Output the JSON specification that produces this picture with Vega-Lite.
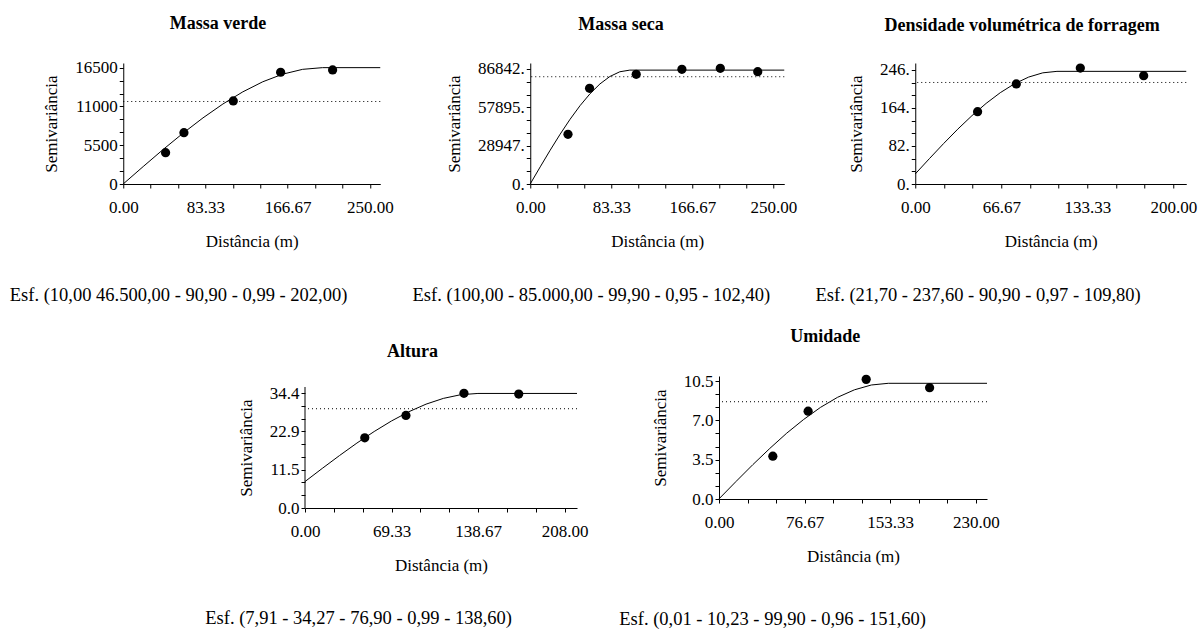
{
  "$schema": "https://vega.github.io/schema/vega-lite/v6.json",
  "background": "white",
  "padding": {"left": 9, "top": 14, "right": 5, "bottom": 5},
  "config": {
    "view": {"stroke": null},
    "font": "'Liberation Serif', 'Times New Roman', Tinos, 'Nimbus Roman', 'DejaVu Serif', serif",
    "axis": {"domainColor": "black", "tickColor": "black", "labelColor": "black", "titleColor": "black", "labelFont": "'Liberation Serif', 'Times New Roman', Tinos, 'Nimbus Roman', 'DejaVu Serif', serif", "titleFont": "'Liberation Serif', 'Times New Roman', Tinos, 'Nimbus Roman', 'DejaVu Serif', serif", "labelFontSize": 17, "titleFontSize": 17, "titleFontWeight": "normal", "grid": false, "labelFlush": false, "labelOverlap": false, "domainWidth": 1, "tickWidth": 1, "tickSize": 4, "tickCount": 30},
    "axisX": {"labelPadding": 11, "titlePadding": 18},
    "axisY": {"labelPadding": 2, "titlePadding": 14},
    "title": {"font": "'Liberation Serif', 'Times New Roman', Tinos, 'Nimbus Roman', 'DejaVu Serif', serif", "fontSize": 18, "fontWeight": "bold", "color": "black", "anchor": "middle", "frame": "bounds", "offset": 26}
  },
  "vconcat": [
    {
      "hconcat": [
        {
          "title": {"text": "Esf. (10,00 46.500,00 - 90,90 - 0,99 - 202,00)", "orient": "bottom", "anchor": "start", "frame": "bounds", "offset": 37, "dx": -33, "fontSize": 18.5, "fontWeight": "normal"},
          "vconcat": [
            {
              "width": 257, "height": 121,
              "title": {"text": "Massa verde"},
              "layer": [
                {
                  "data": {"values": [{"distancia": 0, "semivariancia": 10}, {"distancia": 20.2, "semivariancia": 2475}, {"distancia": 40.4, "semivariancia": 4891}, {"distancia": 60.6, "semivariancia": 7208}, {"distancia": 80.8, "semivariancia": 9376}, {"distancia": 101, "semivariancia": 11347}, {"distancia": 121.2, "semivariancia": 13070}, {"distancia": 141.4, "semivariancia": 14497}, {"distancia": 161.6, "semivariancia": 15577}, {"distancia": 181.8, "semivariancia": 16261}, {"distancia": 202, "semivariancia": 16500}, {"distancia": 260.5, "semivariancia": 16500}]},
                  "mark": {"type": "line", "color": "black", "strokeWidth": 1},
                  "encoding": {
                    "x": {"field": "distancia", "type": "quantitative", "scale": {"domain": [0, 260.5], "nice": false, "zero": false}, "axis": {"title": "Distância (m)", "values": [0, 27.7778, 55.5556, 83.3333, 111.1111, 138.8889, 166.6667, 194.4444, 222.2222, 250], "labelExpr": "abs(datum.value/83.3333 - round(datum.value/83.3333)) < 0.01 ? format(datum.value, '.2f') : ''"}},
                    "y": {"field": "semivariancia", "type": "quantitative", "scale": {"domain": [0, 17160], "nice": false}, "axis": {"title": "Semivariância", "values": [0, 1833.33, 3666.67, 5500, 7333.33, 9166.67, 11000, 12833.33, 14666.67, 16500], "labelExpr": "abs(datum.value/5500 - round(datum.value/5500)) < 0.01 ? format(datum.value, '.0f') : ''"}}
                  }
                },
                {
                  "data": {"values": [{"semivariancia": 11700}]},
                  "mark": {"type": "rule", "color": "black", "strokeWidth": 1, "strokeDash": [1, 3]},
                  "encoding": {"y": {"field": "semivariancia", "type": "quantitative"}}
                },
                {
                  "data": {"values": [{"distancia": 42.9, "semivariancia": 4440}, {"distancia": 61.5, "semivariancia": 7280}, {"distancia": 111.5, "semivariancia": 11780}, {"distancia": 159.5, "semivariancia": 15850}, {"distancia": 212.2, "semivariancia": 16180}]},
                  "mark": {"type": "circle", "color": "black", "opacity": 1, "size": 85},
                  "encoding": {"x": {"field": "distancia", "type": "quantitative"}, "y": {"field": "semivariancia", "type": "quantitative"}}
                }
              ]
            }
          ]
        },
        {
          "title": {"text": "Esf. (100,00 - 85.000,00 - 99,90 - 0,95 - 102,40)", "orient": "bottom", "anchor": "start", "frame": "bounds", "offset": 37, "dx": -33, "fontSize": 18.5, "fontWeight": "normal"},
          "vconcat": [
            {
              "width": 254, "height": 121,
              "title": {"text": "Massa seca"},
              "layer": [
                {
                  "data": {"values": [{"distancia": 0, "semivariancia": 100}, {"distancia": 10.24, "semivariancia": 12942}, {"distancia": 20.48, "semivariancia": 25526}, {"distancia": 30.72, "semivariancia": 37595}, {"distancia": 40.96, "semivariancia": 48891}, {"distancia": 51.2, "semivariancia": 59156}, {"distancia": 61.44, "semivariancia": 68133}, {"distancia": 71.68, "semivariancia": 75563}, {"distancia": 81.92, "semivariancia": 81190}, {"distancia": 92.16, "semivariancia": 84754}, {"distancia": 102.4, "semivariancia": 86000}, {"distancia": 261.3, "semivariancia": 86000}]},
                  "mark": {"type": "line", "color": "black", "strokeWidth": 1},
                  "encoding": {
                    "x": {"field": "distancia", "type": "quantitative", "scale": {"domain": [0, 261.3], "nice": false, "zero": false}, "axis": {"title": "Distância (m)", "values": [0, 27.7778, 55.5556, 83.3333, 111.1111, 138.8889, 166.6667, 194.4444, 222.2222, 250], "labelExpr": "abs(datum.value/83.3333 - round(datum.value/83.3333)) < 0.01 ? format(datum.value, '.2f') : ''"}},
                    "y": {"field": "semivariancia", "type": "quantitative", "scale": {"domain": [0, 91370], "nice": false}, "axis": {"title": "Semivariância", "values": [0, 9649.11, 19298.22, 28947.33, 38596.44, 48245.56, 57894.67, 67543.78, 77192.89, 86842], "labelExpr": "abs(datum.value/28947.333 - round(datum.value/28947.333)) < 0.01 ? format(datum.value, '.0f') + '.' : ''"}}
                  }
                },
                {
                  "data": {"values": [{"semivariancia": 81000}]},
                  "mark": {"type": "rule", "color": "black", "strokeWidth": 1, "strokeDash": [1, 3]},
                  "encoding": {"y": {"field": "semivariancia", "type": "quantitative"}}
                },
                {
                  "data": {"values": [{"distancia": 38.8, "semivariancia": 37530}, {"distancia": 61.0, "semivariancia": 72270}, {"distancia": 109, "semivariancia": 82840}, {"distancia": 156, "semivariancia": 86620}, {"distancia": 195.5, "semivariancia": 87370}, {"distancia": 234, "semivariancia": 84800}]},
                  "mark": {"type": "circle", "color": "black", "opacity": 1, "size": 85},
                  "encoding": {"x": {"field": "distancia", "type": "quantitative"}, "y": {"field": "semivariancia", "type": "quantitative"}}
                }
              ]
            }
          ]
        },
        {
          "title": {"text": "Esf. (21,70 - 237,60 - 90,90 - 0,97 - 109,80)", "orient": "bottom", "anchor": "start", "frame": "bounds", "offset": 37, "dx": -32, "fontSize": 18.5, "fontWeight": "normal"},
          "vconcat": [
            {
              "width": 271, "height": 121,
              "title": {"text": "Densidade volumétrica de forragem"},
              "layer": [
                {
                  "data": {"values": [{"distancia": 0, "semivariancia": 21.7}, {"distancia": 10.98, "semivariancia": 54.78}, {"distancia": 21.96, "semivariancia": 87.2}, {"distancia": 32.94, "semivariancia": 118.3}, {"distancia": 43.92, "semivariancia": 147.4}, {"distancia": 54.9, "semivariancia": 173.84}, {"distancia": 65.88, "semivariancia": 196.97}, {"distancia": 76.86, "semivariancia": 216.11}, {"distancia": 87.84, "semivariancia": 230.61}, {"distancia": 98.82, "semivariancia": 239.79}, {"distancia": 109.8, "semivariancia": 243}, {"distancia": 210, "semivariancia": 243}]},
                  "mark": {"type": "line", "color": "black", "strokeWidth": 1},
                  "encoding": {
                    "x": {"field": "distancia", "type": "quantitative", "scale": {"domain": [0, 210], "nice": false, "zero": false}, "axis": {"title": "Distância (m)", "values": [0, 22.2222, 44.4444, 66.6667, 88.8889, 111.1111, 133.3333, 155.5556, 177.7778, 200], "labelExpr": "abs(datum.value/66.6667 - round(datum.value/66.6667)) < 0.01 ? format(datum.value, '.2f') : ''"}},
                    "y": {"field": "semivariancia", "type": "quantitative", "scale": {"domain": [0, 261], "nice": false}, "axis": {"title": "Semivariância", "values": [0, 27.3333, 54.6667, 82, 109.3333, 136.6667, 164, 191.3333, 218.6667, 246], "labelExpr": "abs(datum.value/82 - round(datum.value/82)) < 0.01 ? format(datum.value, '.0f') + '.' : ''"}}
                  }
                },
                {
                  "data": {"values": [{"semivariancia": 219}]},
                  "mark": {"type": "rule", "color": "black", "strokeWidth": 1, "strokeDash": [1, 3]},
                  "encoding": {"y": {"field": "semivariancia", "type": "quantitative"}}
                },
                {
                  "data": {"values": [{"distancia": 48.3, "semivariancia": 156}, {"distancia": 78.3, "semivariancia": 215.8}, {"distancia": 127.9, "semivariancia": 250}, {"distancia": 177, "semivariancia": 233.7}]},
                  "mark": {"type": "circle", "color": "black", "opacity": 1, "size": 85},
                  "encoding": {"x": {"field": "distancia", "type": "quantitative"}, "y": {"field": "semivariancia", "type": "quantitative"}}
                }
              ]
            }
          ]
        }
      ],
      "spacing": 18
    },
    {
      "hconcat": [
        {
          "hconcat": [
            {
              "title": {"text": "Esf. (7,91 - 34,27 - 76,90 - 0,99 - 138,60)", "orient": "bottom", "anchor": "start", "frame": "bounds", "offset": 36, "dx": -32, "fontSize": 18.5, "fontWeight": "normal"},
              "vconcat": [
                {
                  "width": 272, "height": 132,
                  "title": {"text": "Altura", "offset": 15},
                  "layer": [
                    {
                      "data": {"values": [{"distancia": 0, "semivariancia": 7.91}, {"distancia": 13.86, "semivariancia": 11.85}, {"distancia": 27.72, "semivariancia": 15.71}, {"distancia": 41.58, "semivariancia": 19.42}, {"distancia": 55.44, "semivariancia": 22.88}, {"distancia": 69.3, "semivariancia": 26.03}, {"distancia": 83.16, "semivariancia": 28.79}, {"distancia": 97.02, "semivariancia": 31.07}, {"distancia": 110.88, "semivariancia": 32.79}, {"distancia": 124.74, "semivariancia": 33.89}, {"distancia": 138.6, "semivariancia": 34.27}, {"distancia": 218, "semivariancia": 34.27}]},
                      "mark": {"type": "line", "color": "black", "strokeWidth": 1},
                      "encoding": {
                        "x": {"field": "distancia", "type": "quantitative", "scale": {"domain": [0, 218], "nice": false, "zero": false}, "axis": {"title": "Distância (m)", "values": [0, 23.1111, 46.2222, 69.3333, 92.4444, 115.5556, 138.6667, 161.7778, 184.8889, 208], "labelExpr": "abs(datum.value/69.3333 - round(datum.value/69.3333)) < 0.01 ? format(datum.value, '.2f') : ''"}},
                        "y": {"field": "semivariancia", "type": "quantitative", "scale": {"domain": [0, 39.49], "nice": false}, "axis": {"title": "Semivariância", "domain": false, "titleY": 71.5, "values": [0, 3.8222, 7.6444, 11.4667, 15.2889, 19.1111, 22.9333, 26.7556, 30.5778, 34.4], "labelExpr": "abs(datum.value/11.4667 - round(datum.value/11.4667)) < 0.01 ? format(datum.value, '.1f') : ''"}}
                      }
                    },
                    {
                      "data": {"values": [{"semivariancia": 29.7}]},
                      "mark": {"type": "rule", "color": "black", "strokeWidth": 1, "strokeDash": [1, 3]},
                      "encoding": {"y": {"field": "semivariancia", "type": "quantitative"}}
                    },
                    {
                      "data": {"values": [{}]},
                      "mark": {"type": "rule", "color": "black", "strokeWidth": 1},
                      "encoding": {"x": {"datum": 0, "type": "quantitative"}, "y": {"datum": 0, "type": "quantitative"}, "y2": {"datum": 36.2}}
                    },
                    {
                      "data": {"values": [{"distancia": 47.9, "semivariancia": 21.0}, {"distancia": 80.9, "semivariancia": 27.7}, {"distancia": 127.4, "semivariancia": 34.3}, {"distancia": 171.3, "semivariancia": 34.1}]},
                      "mark": {"type": "circle", "color": "black", "opacity": 1, "size": 85},
                      "encoding": {"x": {"field": "distancia", "type": "quantitative"}, "y": {"field": "semivariancia", "type": "quantitative"}}
                    }
                  ]
                }
              ]
            },
            {
              "title": {"text": "Esf. (0,01 - 10,23 - 99,90 - 0,96 - 151,60)", "orient": "bottom", "anchor": "start", "frame": "bounds", "offset": 46, "dx": -32, "fontSize": 18.5, "fontWeight": "normal"},
              "vconcat": [
                {
                  "width": 268, "height": 123,
                  "title": {"text": "Umidade", "offset": 26.5},
                  "layer": [
                    {
                      "data": {"values": [{"distancia": 0, "semivariancia": 0.01}, {"distancia": 15.16, "semivariancia": 1.55}, {"distancia": 30.32, "semivariancia": 3.06}, {"distancia": 45.48, "semivariancia": 4.5}, {"distancia": 60.64, "semivariancia": 5.86}, {"distancia": 75.8, "semivariancia": 7.08}, {"distancia": 90.96, "semivariancia": 8.16}, {"distancia": 106.12, "semivariancia": 9.05}, {"distancia": 121.28, "semivariancia": 9.72}, {"distancia": 136.44, "semivariancia": 10.15}, {"distancia": 151.6, "semivariancia": 10.3}, {"distancia": 240, "semivariancia": 10.3}]},
                      "mark": {"type": "line", "color": "black", "strokeWidth": 1},
                      "encoding": {
                        "x": {"field": "distancia", "type": "quantitative", "scale": {"domain": [0, 240], "nice": false, "zero": false}, "axis": {"title": "Distância (m)", "values": [0, 25.5556, 51.1111, 76.6667, 102.2222, 127.7778, 153.3333, 178.8889, 204.4444, 230], "labelExpr": "abs(datum.value/76.6667 - round(datum.value/76.6667)) < 0.01 ? format(datum.value, '.2f') : ''"}},
                        "y": {"field": "semivariancia", "type": "quantitative", "scale": {"domain": [0, 10.95], "nice": false}, "axis": {"title": "Semivariância", "values": [0, 1.1667, 2.3333, 3.5, 4.6667, 5.8333, 7, 8.1667, 9.3333, 10.5], "labelExpr": "abs(datum.value/3.5 - round(datum.value/3.5)) < 0.01 ? format(datum.value, '.1f') : ''"}}
                      }
                    },
                    {
                      "data": {"values": [{"semivariancia": 8.66}]},
                      "mark": {"type": "rule", "color": "black", "strokeWidth": 1, "strokeDash": [1, 3]},
                      "encoding": {"y": {"field": "semivariancia", "type": "quantitative"}}
                    },
                    {
                      "data": {"values": [{"distancia": 48.2, "semivariancia": 3.81}, {"distancia": 79.8, "semivariancia": 7.82}, {"distancia": 131.8, "semivariancia": 10.65}, {"distancia": 188.6, "semivariancia": 9.91}]},
                      "mark": {"type": "circle", "color": "black", "opacity": 1, "size": 85},
                      "encoding": {"x": {"field": "distancia", "type": "quantitative"}, "y": {"field": "semivariancia", "type": "quantitative"}}
                    }
                  ]
                }
              ]
            }
          ],
          "spacing": 31
        },
        {
          "width": 15, "height": 1,
          "data": {"values": []},
          "mark": "point"
        }
      ],
      "spacing": 0
    }
  ],
  "spacing": 22,
  "center": true
}
